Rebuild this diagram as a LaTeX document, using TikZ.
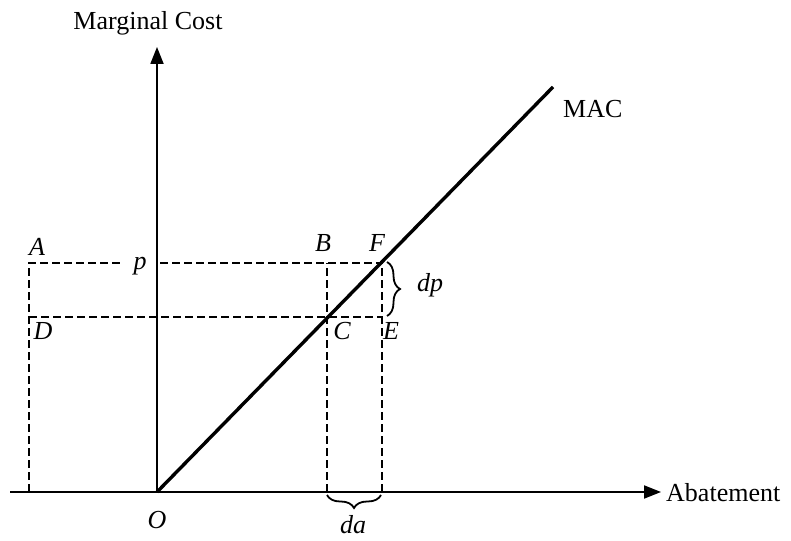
\documentclass[tikz,border=0pt]{standalone}
\usepackage{fontspec}
\setmainfont{Liberation Serif}
\usetikzlibrary{arrows.meta,decorations.pathreplacing}
\begin{document}
\begin{tikzpicture}[x=1pt,y=1pt,
  axis/.style={line width=1.8pt,-{Triangle[length=17pt,width=13pt]}},
  guide/.style={line width=2pt,dash pattern=on 8pt off 4pt},
  curve/.style={line width=3.4pt},
  lbl/.style={font=\fontsize{26}{30}\selectfont,inner sep=0pt},
  ilbl/.style={font=\fontsize{26}{30}\selectfont\itshape,inner sep=0pt},
  brc/.style={line width=1.8pt,decorate,decoration={brace,amplitude=13pt}}]
\useasboundingbox (0,0) rectangle (791,540);
% points (y measured upward)
\coordinate (O) at (157,48);
\coordinate (Xl) at (10,48);
\coordinate (Xr) at (661,48);
\coordinate (Yt) at (157,493);
\coordinate (M) at (553,453);
\coordinate (A) at (29,277);
\coordinate (D) at (29,223);
\coordinate (A0) at (29,48);
\coordinate (B) at (327,277);
\coordinate (C) at (327,223);
\coordinate (B0) at (327,48);
\coordinate (F) at (382,277);
\coordinate (E) at (382,223);
\coordinate (F0) at (382,48);
\coordinate (pL) at (123,277);
\coordinate (pR) at (160,277);
% axes
\draw[axis] (Xl) -- (Xr);
\draw[axis] (O) -- (Yt);
% dashed guides
\draw[guide] (A0) -- (A) -- (pL);
\draw[guide] (pR) -- (F);
\draw[guide] (D) -- (E);
\draw[guide] (B0) -- (B);
\draw[guide] (F0) -- (F);
% MAC line
\draw[curve] (O) -- (M);
% braces
\draw[brc] (387,278) -- (387,224);
\draw[brc] (381,45) -- (327,45);
% labels
\node[lbl,anchor=base] (lmc) at (148,510) {Marginal Cost};
\node[lbl,anchor=base west] (lmac) at (563,422) {MAC};
\node[lbl,anchor=base west] (lab) at (666,38) {Abatement};
\node[ilbl,anchor=base] (lA) at (37,284) {A};
\node[ilbl,anchor=base] (lp) at (140,270) {p};
\node[ilbl,anchor=base] (lB) at (323,288) {B};
\node[ilbl,anchor=base] (lF) at (377,288) {F};
\node[ilbl,anchor=base] (lD) at (43,200) {D};
\node[ilbl,anchor=base] (lC) at (342,200) {C};
\node[ilbl,anchor=base] (lE) at (391,200) {E};
\node[ilbl,anchor=base] (ldp) at (430,248) {dp};
\node[ilbl,anchor=base] (lda) at (353,7) {da};
\node[ilbl,anchor=base] (lO) at (157,12) {O};
\end{tikzpicture}
\end{document}
